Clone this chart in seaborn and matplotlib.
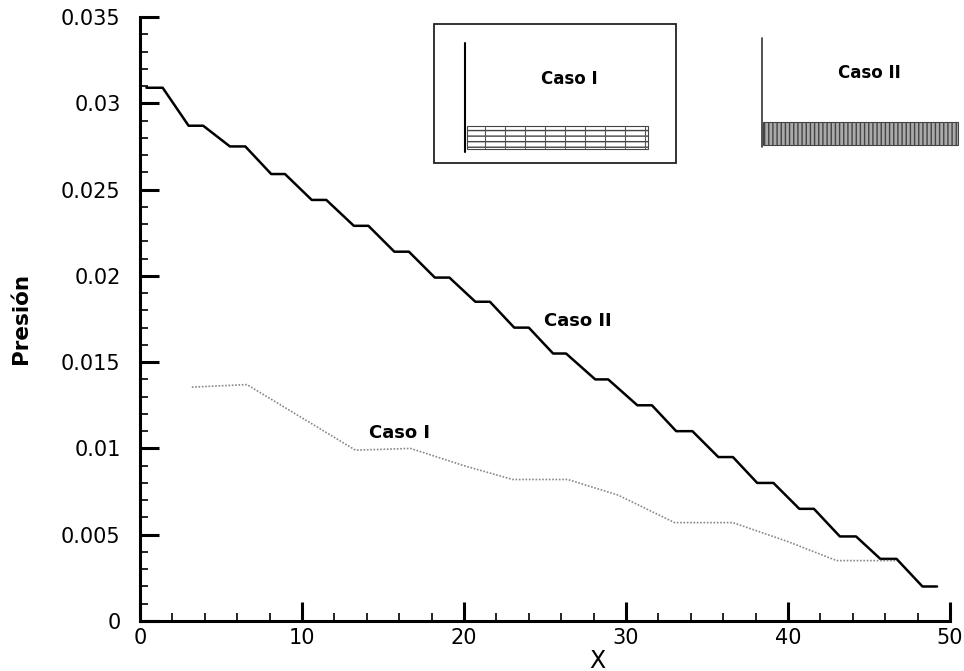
import matplotlib
matplotlib.use("Agg")
import matplotlib.pyplot as plt
import seaborn as sns
import pandas as pd
from matplotlib.patches import Rectangle
from matplotlib.ticker import MultipleLocator, FixedLocator

# ---- data ----
caso2_x = [0.4, 1.4, 3.0, 3.9, 5.55, 6.5, 8.1, 8.95, 10.6, 11.5, 13.2, 14.1, 15.7, 16.6,
           18.2, 19.1, 20.7, 21.6, 23.1, 24.0, 25.5, 26.3, 28.1, 28.9, 30.7, 31.6, 33.1, 34.1,
           35.7, 36.6, 38.1, 39.1, 40.7, 41.6, 43.2, 44.2, 45.7, 46.7, 48.3, 49.2]
caso2_y = [0.0309, 0.0309, 0.0287, 0.0287, 0.0275, 0.0275, 0.0259, 0.0259, 0.0244, 0.0244,
           0.0229, 0.0229, 0.0214, 0.0214, 0.0199, 0.0199, 0.0185, 0.0185, 0.0170, 0.0170,
           0.0155, 0.0155, 0.0140, 0.0140, 0.0125, 0.0125, 0.0110, 0.0110, 0.0095, 0.0095,
           0.0080, 0.0080, 0.0065, 0.0065, 0.0049, 0.0049, 0.0036, 0.0036, 0.0020, 0.0020]
caso1_x = [3.2, 6.6, 13.3, 16.7, 20.0, 23.0, 26.4, 29.5, 33.0, 36.6, 40.0, 43.0, 46.7]
caso1_y = [0.01355, 0.0137, 0.0099, 0.0100, 0.0090, 0.0082, 0.0082, 0.0073, 0.0057,
           0.0057, 0.0046, 0.0035, 0.0035]
x_ticks = [0, 10, 20, 30, 40, 50]
y_ticks = [0, 0.005, 0.01, 0.015, 0.02, 0.025, 0.03, 0.035]
y_tick_labels = ["0", "0.005", "0.01", "0.015", "0.02", "0.025", "0.03", "0.035"]

sns.set_style("ticks")
plt.rcParams['font.family'] = ['DejaVu Sans']
plt.rcParams['text.color'] = 'black'
plt.rcParams['axes.labelcolor'] = 'black'

W, H = 964, 671
fig = plt.figure(figsize=(W / 100, H / 100), dpi=100)
ax = fig.add_axes([140 / W, 1 - 621 / H, (950 - 140) / W, (621 - 17) / H])

df2 = pd.DataFrame({"x": caso2_x, "y": caso2_y})
df1 = pd.DataFrame({"x": caso1_x, "y": caso1_y})
sns.lineplot(data=df2, x="x", y="y", ax=ax, sort=False, estimator=None,
             color="black", linewidth=1.8)
sns.lineplot(data=df1, x="x", y="y", ax=ax, sort=False, estimator=None,
             color="#888888", linewidth=1.2, linestyle=(0, (1, 1)))

ax.set_xlim(0, 50)
ax.set_ylim(0, 0.035)
ax.xaxis.set_major_locator(FixedLocator(x_ticks))
ax.xaxis.set_minor_locator(MultipleLocator(2))
ax.yaxis.set_major_locator(FixedLocator(y_ticks))
ax.yaxis.set_minor_locator(MultipleLocator(0.001))
ax.set_yticklabels(y_tick_labels)
ax.set_xticklabels([str(v) for v in x_ticks])

for s in ["top", "right"]:
    ax.spines[s].set_visible(False)
for s in ["left", "bottom"]:
    ax.spines[s].set_linewidth(2.2)
    ax.spines[s].set_color("black")

ax.tick_params(axis="both", which="major", direction="in", length=14, width=2.2,
               labelsize=15, colors="black", labelcolor="black")
ax.tick_params(axis="both", which="minor", direction="in", length=6, width=1.2,
               colors="black")
ax.tick_params(axis="y", which="major", pad=14)
ax.tick_params(axis="x", which="major", pad=5)

ax.set_xlabel("X", fontsize=17, color="black")
ax.xaxis.set_label_coords((597 - 140) / (950 - 140), -0.046)
ax.set_ylabel("Presión", fontsize=15.5, fontweight="bold", color="black")
ax.yaxis.set_label_coords(-(140 - 31) / (950 - 140), 0.5)

ax.text(27.0, 0.0174, "Caso II", fontsize=13, fontweight="bold", ha="center",
        va="center", color="black")
ax.text(16.0, 0.0109, "Caso I", fontsize=13, fontweight="bold", ha="center",
        va="center", color="black")

# ---- schematic insets (pixel overlay) ----
ov = fig.add_axes([0, 0, 1, 1])
ov.set_xlim(0, W)
ov.set_ylim(H, 0)
ov.axis("off")
ov.patch.set_alpha(0)

# Caso I inset box
ov.add_patch(Rectangle((434, 24), 242, 139, fill=False, edgecolor="#222222", linewidth=1.3))
ov.plot([465, 465], [43, 152], color="black", linewidth=1.5)
ov.add_patch(Rectangle((467, 126), 181, 23, facecolor="white", edgecolor="#444444",
                       linewidth=0.8, hatch="---"))
for xv in range(485, 648, 20):
    ov.plot([xv, xv], [127, 148], color="#555555", linewidth=0.8)
ov.text(569, 79, "Caso I", fontsize=12, fontweight="bold", ha="center", va="center",
        color="black")

# Caso II schematic
ov.plot([762, 762], [38, 147], color="#333333", linewidth=1.2)
ov.add_patch(Rectangle((763, 122), 195, 23, facecolor="#aaaaaa", edgecolor="#444444",
                       linewidth=0.8, hatch="||||"))
ov.text(869, 73, "Caso II", fontsize=12, fontweight="bold", ha="center", va="center",
        color="black")

fig.savefig("out.png", dpi=100)
